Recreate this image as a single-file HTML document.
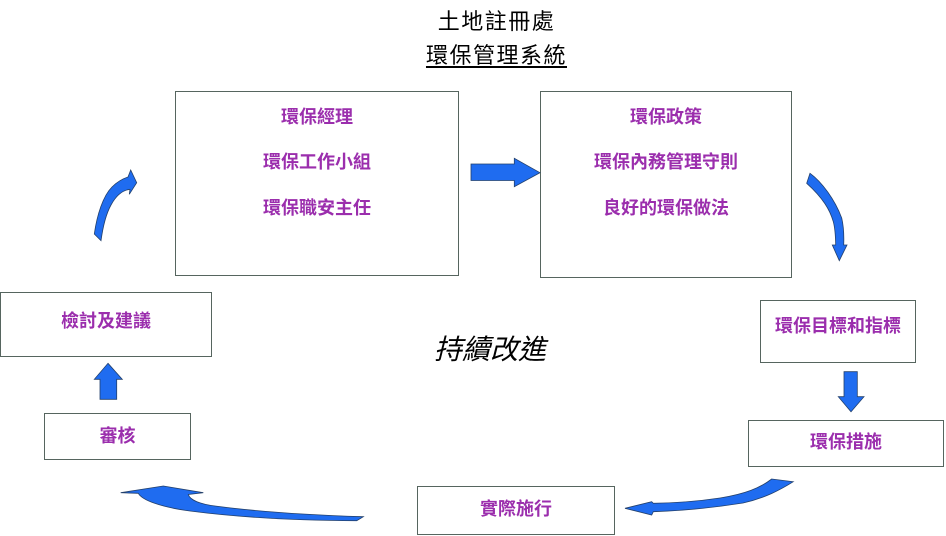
<!DOCTYPE html>
<html>
<head>
<meta charset="utf-8">
<style>
  html,body{margin:0;padding:0;background:#fff;}
  body{width:946px;height:536px;position:relative;overflow:hidden;
    font-family:"Liberation Sans","Noto Sans CJK TC","Noto Sans CJK SC",sans-serif;}
  .box{position:absolute;border:1px solid #56655f;box-sizing:border-box;background:#fff;}
  .t{position:absolute;text-align:center;color:#9b2ead;font-weight:bold;font-size:18px;line-height:22px;white-space:nowrap;}
  .title{position:absolute;left:0;width:993px;text-align:center;color:#000;font-size:22px;line-height:28px;letter-spacing:1.5px;white-space:nowrap;}
  svg{position:absolute;left:0;top:0;}
</style>
</head>
<body>
<div class="title" style="top:8px;">土地註冊處</div>
<div class="title" style="top:42px;"><span style="text-decoration:underline;text-underline-offset:3px;">環保管理系統</span></div>

<div class="box" style="left:175px;top:91px;width:284px;height:185px;"></div>
<div class="box" style="left:540px;top:91px;width:252px;height:187px;"></div>
<div class="box" style="left:0px;top:292px;width:212px;height:65px;"></div>
<div class="box" style="left:44px;top:413px;width:147px;height:47px;"></div>
<div class="box" style="left:417px;top:486px;width:198px;height:49px;"></div>
<div class="box" style="left:760px;top:300px;width:156px;height:63px;"></div>
<div class="box" style="left:748px;top:420px;width:196px;height:47px;"></div>

<div class="t" style="left:175px;width:284px;top:106px;">環保經理</div>
<div class="t" style="left:175px;width:284px;top:151px;">環保工作小組</div>
<div class="t" style="left:175px;width:284px;top:197px;">環保職安主任</div>

<div class="t" style="left:540px;width:252px;top:106px;">環保政策</div>
<div class="t" style="left:540px;width:252px;top:151px;">環保內務管理守則</div>
<div class="t" style="left:540px;width:252px;top:197px;">良好的環保做法</div>

<div class="t" style="left:0px;width:212px;top:310px;">檢討及建議</div>
<div class="t" style="left:44px;width:147px;top:425px;">審核</div>
<div class="t" style="left:417px;width:198px;top:498px;">實際施行</div>
<div class="t" style="left:760px;width:156px;top:315px;">環保目標和指標</div>
<div class="t" style="left:748px;width:196px;top:431px;">環保措施</div>

<div style="position:absolute;left:420px;top:331px;width:140px;text-align:center;font-size:28px;line-height:38px;font-style:italic;color:#000;white-space:nowrap;">持續改進</div>

<svg width="946" height="536" viewBox="0 0 946 536">
  <g fill="#1f6cf0" stroke="#23406b" stroke-width="0.8" stroke-linejoin="miter">
    <!-- right arrow -->
    <path d="M471,164 L514.3,164 L514.3,158.3 L540,172.7 L514.3,186.7 L514.3,180.5 L471,180.5 Z"/>
    <!-- up arrow -->
    <path d="M108,363.3 L122.3,379.3 L116.7,379.3 L116.7,399.3 L100,399.3 L100,379.3 L94.3,379.3 Z"/>
    <!-- down arrow -->
    <path d="M844,371.7 L857.3,371.7 L857.3,396.7 L864,396.7 L851,411.7 L838.3,396.7 L844,396.7 Z"/>
    <!-- top-left curved arrow -->
    <path d="M94.3,234 C97,215 103,196 112,187 C117,182 122,179 128,177 L130.7,170 L136.7,182.7 L129.3,194.3 L130,189.3 C124,190 117,194 111,205 C106,214 103,226 101,240.7 Z"/>
    <!-- top-right curved arrow -->
    <path d="M810,173.3 C822,182 835,200 841.7,218 C844,228 844,238 843.7,245 L847,245 L839.3,260.7 L832.3,245 L835.7,245 C835.5,235 835,228 833.3,221.7 C830,210 823,198 806.7,183.3 Z"/>
    <!-- bottom-right curved arrow -->
    <path d="M771.7,479 C760,488 745,494 720,498 C700,501 675,503 653.3,503.3 L651.7,501.7 L625,508.3 L651.7,515 L653.3,511.7 C675,511 705,509 743,503 C765,498 780,490 793.3,481.7 Z"/>
    <!-- bottom-left big curved arrow -->
    <path d="M120.7,492.7 L163.3,486 L203.3,492.7 L188.3,494.5 C190,500 200,504 215,506 C260,512 310,515 363.3,516.7 L356.7,520.7 C300,520.5 240,517.5 190,511 C160,507 142,500 138.3,493.3 Z"/>
  </g>
</svg>
</body>
</html>
